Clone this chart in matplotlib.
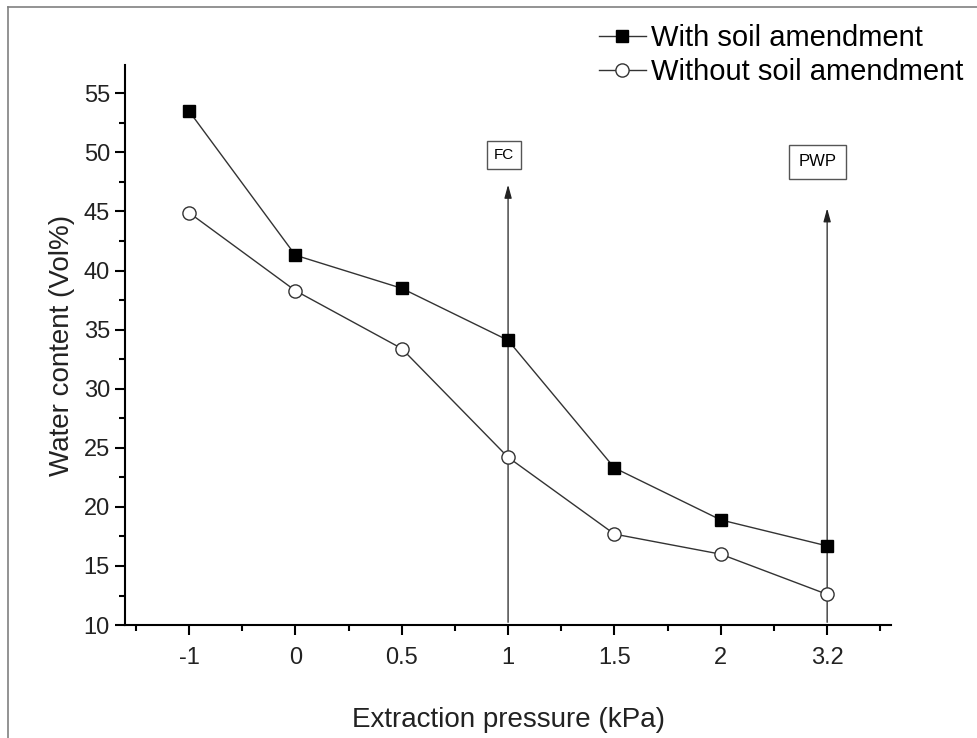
import numpy as np
import matplotlib
matplotlib.use('Agg')
import matplotlib.pyplot as plt
from matplotlib.lines import Line2D
from matplotlib.ticker import MultipleLocator

plt.rcParams['font.family'] = ['Liberation Sans', 'DejaVu Sans']

# Data
pressure_labels = ['-1', '0', '0.5', '1', '1.5', '2', '3.2']
with_amend = [53.5, 41.3, 38.5, 34.1, 23.3, 18.9, 16.7]
without_amend = [44.9, 38.3, 33.4, 24.2, 17.7, 16.0, 12.6]

# Marker lines (category index, arrow tip, label y)
fc_idx, fc_tip, fc_label_y = 3, 47.5, 49.8
pwp_idx, pwp_tip, pwp_label_y = 6, 45.5, 49.2

x = np.arange(len(pressure_labels))

fig = plt.figure(figsize=(9.78, 7.38), dpi=100)
ax = fig.add_axes([0.128, 0.153, 0.783, 0.759])

# Frame round the figure (top and left only visible)
fig.add_artist(Line2D([0.008, 1.0], [0.990, 0.990], transform=fig.transFigure,
                      color='#808080', lw=1.2))
fig.add_artist(Line2D([0.008, 0.008], [0.0, 0.990], transform=fig.transFigure,
                      color='#808080', lw=1.2))

ax.plot(x, with_amend, color='#333333', lw=1.0, marker='s', markersize=8,
        markerfacecolor='black', markeredgecolor='black',
        label='With soil amendment', zorder=3)
ax.plot(x, without_amend, color='#333333', lw=1.0, marker='o', markersize=9.5,
        markerfacecolor='white', markeredgecolor='#333333',
        label='Without soil amendment', zorder=3)

# FC and PWP arrows
for idx, tip in [(fc_idx, fc_tip), (pwp_idx, pwp_tip)]:
    ax.annotate('', xy=(idx, tip), xytext=(idx, 10),
                arrowprops=dict(arrowstyle='-|>,head_length=0.8,head_width=0.22',
                                color='#222222', lw=0.9), zorder=2)

ax.text(fc_idx - 0.04, fc_label_y, 'FC', ha='center', va='center', fontsize=11,
        bbox=dict(boxstyle='square,pad=0.45', facecolor='white', edgecolor='#555555', lw=1))
ax.text(pwp_idx - 0.09, pwp_label_y, 'PWP', ha='center', va='center', fontsize=12,
        bbox=dict(boxstyle='square,pad=0.55', facecolor='white', edgecolor='#555555', lw=1))

ax.set_xlim(-0.6, 6.6)
ax.set_ylim(10, 57.4)
ax.set_xticks(x)
ax.set_xticklabels(pressure_labels)
ax.xaxis.set_minor_locator(MultipleLocator(0.5))
ax.yaxis.set_major_locator(MultipleLocator(5))
ax.yaxis.set_minor_locator(MultipleLocator(2.5))

for side in ['top', 'right']:
    ax.spines[side].set_visible(False)
for side in ['left', 'bottom']:
    ax.spines[side].set_linewidth(1.5)

ax.tick_params(which='major', direction='out', length=7, width=1.5, labelsize=17,
               pad=4, labelcolor='#222222')
ax.tick_params(which='minor', direction='out', length=4, width=1.5)
ax.tick_params(axis='x', which='major', pad=9)

ax.set_xlabel('Extraction pressure (kPa)', fontsize=20, labelpad=27, color='#222222')
ax.set_ylabel('Water content (Vol%)', fontsize=20, labelpad=6, color='#222222')

ax.legend(loc='upper left', bbox_to_anchor=(599 / 978, 1 - 24 / 738),
          bbox_transform=fig.transFigure, frameon=False, fontsize=21,
          handlelength=1.6, handletextpad=0.2, labelspacing=0.22,
          borderaxespad=0, borderpad=0)

plt.savefig('out.png', dpi=100)
plt.close()
